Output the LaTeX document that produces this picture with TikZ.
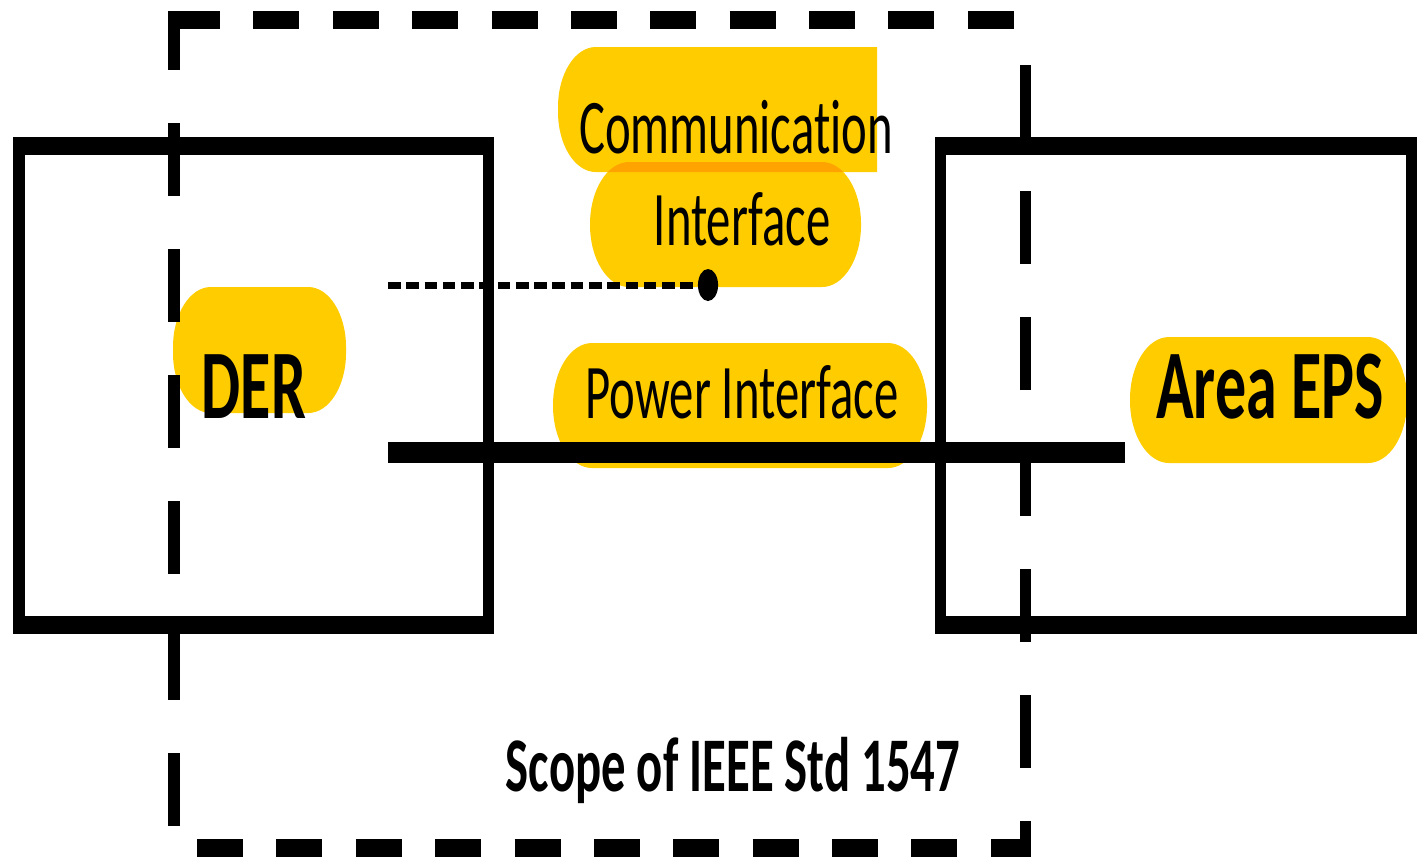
\documentclass[tikz,border=0pt]{standalone}
\usepackage{fontspec}
\setmainfont{Carlito}[Ligatures=CommonOff]
\usepackage{tikz}
\usetikzlibrary{positioning}
\definecolor{hiyellow}{RGB}{255,204,0}
\tikzset{
  hilite/.style={fill=hiyellow, draw=none},
  boxline/.style={draw=black, line width=1.75mm},
  scopeline/.style={draw=black, line width=1.75mm,
    dash pattern=on 7.3mm off 5.3mm},
  commline/.style={draw=black, line width=0.7mm,
    dash pattern=on 2.0mm off 0.9mm},
  powerline/.style={draw=black, line width=2.1mm},
  commdot/.style={circle, fill=black, inner sep=0pt, minimum size=3.2mm},
  lbltext/.style={font=\fontsize{22}{26}\selectfont, inner sep=0pt, anchor=base},
  bigtext/.style={font=\fontsize{28}{32}\selectfont\bfseries, inner sep=0pt, anchor=base}
}
\begin{document}
\begin{tikzpicture}[x=0.1mm, y=-0.1mm]
  \useasboundingbox (0,0) rectangle (1417,864);
  \begin{scope}[x=0.15873mm, transform canvas={xscale=0.63}]

  % Highlights
  \begin{scope}[blend mode=multiply]
    \fill[hilite] (877,47) -- (877,172) -- (595.8,172)
      arc[start angle=270, end angle=180, radius=6mm] -- (558,107)
      arc[start angle=180, end angle=90, radius=6mm] -- cycle;
    \fill[hilite, rounded corners=6.2mm] (590,162) rectangle (861,287);
    \fill[hilite, rounded corners=6.2mm] (553,343) rectangle (927,468);
    \fill[hilite, rounded corners=6mm] (173,287) rectangle (346,413);
    \fill[hilite, rounded corners=6.2mm] (1130,337) rectangle (1407,463);
  \end{scope}

  % Blocks
  \draw[boxline] (19,146) rectangle (488,625);
  \draw[boxline] (940,146) rectangle (1411,625);

  % Scope of the standard
  \coordinate (sc-nw) at (174,20);
  \coordinate (sc-ne) at (1025,20);
  \coordinate (sc-sw) at (174,848);
  \coordinate (sc-se) at (1025,848);
  \draw[scopeline] (sc-nw) -- (sc-ne);
  \draw[scopeline, dash phase=1.4mm] ([yshift=0.9mm]sc-nw) -- (sc-sw);
  \draw[scopeline, dash phase=8.1mm] (sc-ne) -- ([yshift=-0.9mm]sc-se);
  \draw[scopeline] (197,848) -- ([xshift=0.88mm]sc-se);

  % Interfaces
  \coordinate (comm-start) at (388,285);
  \node[commdot] (dot) at (708,285) {};
  \draw[commline] (comm-start) -- (dot.center);
  \coordinate (pwr-start) at (388,452);
  \coordinate (pwr-end) at (1125,452);
  \draw[powerline] (pwr-start) -- (pwr-end);

  % Labels
  \node[lbltext] (comm) at (736,153) {Communication};
  \node[lbltext] (intf) at (742,245) {Interface};
  \node[lbltext] (power) at (742,418) {Power Interface};
  \node[bigtext] (der) at (254,418) {DER};
  \node[bigtext] (area) at (1270,418) {Area EPS};
  \node[lbltext, font=\fontsize{22}{26}\selectfont\bfseries] (std) at (733,791) {Scope of IEEE Std 1547};

  \end{scope}
\end{tikzpicture}
\end{document}
